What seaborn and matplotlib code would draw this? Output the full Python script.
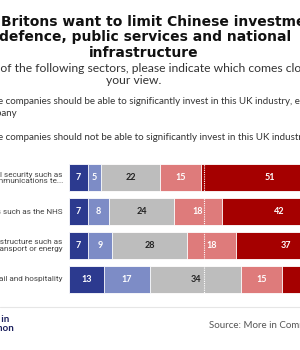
import matplotlib
matplotlib.use("Agg")
import matplotlib.pyplot as plt
import seaborn as sns
import numpy as np
import pandas as pd

categories = [
    "Defence and national security such as\ntelecommunications te...",
    "Public services such as the NHS",
    "National infrastructure such as\ntransport or energy",
    "Retail and hospitality",
]
series_names = ["Strongly able", "Somewhat able", "Don't know", "Somewhat not able", "Strongly not able"]
strong_able = [7, 7, 7, 13]
some_able = [5, 8, 9, 17]
dont_know = [22, 24, 28, 34]
some_not = [15, 18, 18, 15]
strong_not = [51, 42, 37, 21]
colors = ["#2c3a8f", "#7d8cc6", "#bdbdbd", "#de7b7b", "#a50000"]
label_colors = ["white", "white", "#222222", "white", "white"]

title_lines = ["Britons want to limit Chinese investment in",
               "defence, public services and national",
               "infrastructure"]
subtitle_lines = ["For each of the following sectors, please indicate which comes closest to",
                  "your view."]
legend1a = "Chinese companies should be able to significantly invest in this UK industry, even if it means buying a UK"
legend1b = "company"
legend2 = "Chinese companies should not be able to significantly invest in this UK industry"
source = "Source: More in Common"
logo = "More in\nCommon"

sns.set_theme(style="white")
plt.rcParams["font.family"] = ["Lato", "DejaVu Sans"]

W, H = 300, 350
fig = plt.figure(figsize=(3, 3.5), dpi=100)
fig.patch.set_facecolor("white")

def fx(x):
    return x / W
def fy(y):
    return 1 - y / H

scale = 2.69
ax_left = 69
ax_w = 100 * scale
top_px, bot_px = 160.5, 296.5
ax = fig.add_axes([fx(ax_left), fy(bot_px), ax_w / W, (bot_px - top_px) / H])

vals = np.array([strong_able, some_able, dont_know, some_not, strong_not], dtype=float)
cum = np.cumsum(vals, axis=0)
df = pd.DataFrame({"cat": categories})
for k in range(4, -1, -1):
    df["v"] = cum[k]
    sns.barplot(data=df, x="v", y="cat", orient="h", color=colors[k],
                width=0.8, edgecolor="white", linewidth=0.6, saturation=1, ax=ax)

ax.axvline(50, color="white", lw=0.8, ls=(0, (1, 1)))

for i in range(len(categories)):
    for k in range(5):
        left = cum[k][i] - vals[k][i]
        ax.text(left + vals[k][i] / 2, i, f"{int(vals[k][i])}", ha="center", va="center",
                fontsize=6.5, fontweight="bold", color=label_colors[k])
    ax.text(-2.3, i, categories[i], ha="right", va="center", fontsize=5.9,
            color="#444444", linespacing=1.05, family=["Roboto", "DejaVu Sans"])

ax.set_xlim(0, 100)
ax.set_ylim(3.5, -0.5)
ax.set_xlabel("")
ax.set_ylabel("")
ax.set_xticks([])
ax.set_yticks([])
for s in ax.spines.values():
    s.set_visible(False)

# title lines
tkw = dict(va="baseline", fontsize=10, fontweight="bold", color="#111111",
           family=["DejaVu Sans"])
fig.text(fx(1), fy(26), title_lines[0], ha="left", **tkw)
fig.text(fx(145), fy(41.5), title_lines[1], ha="center", **tkw)
fig.text(fx(144), fy(57), title_lines[2], ha="center", **tkw)

# subtitle
skw = dict(va="baseline", fontsize=8.7, color="#333333", ha="center")
fig.text(fx(144), fy(72.5), subtitle_lines[0], **skw)
fig.text(fx(134), fy(83.5), subtitle_lines[1], **skw)

# legend texts
fig.text(fx(-31), fy(104), legend1a, ha="left", va="baseline", fontsize=7.0,
         color="#333333")
fig.text(fx(-21), fy(116), legend1b, ha="left", va="baseline", fontsize=7.0,
         color="#333333")
fig.text(fx(-31), fy(140), legend2, ha="left", va="baseline", fontsize=7.0,
         color="#333333")

# footer
fig.add_artist(plt.Line2D([0, 1], [fy(307), fy(307)], color="#e6e6e6", lw=0.8,
                          transform=fig.transFigure))
fig.text(fx(-25), fy(331), logo, ha="left", va="baseline", fontsize=7,
         fontweight="bold", color="#1b1f5c", linespacing=1.0)
fig.text(fx(209), fy(328), source, ha="left", va="baseline", fontsize=7.0,
         color="#555555")

fig.savefig("out.png", dpi=100)
